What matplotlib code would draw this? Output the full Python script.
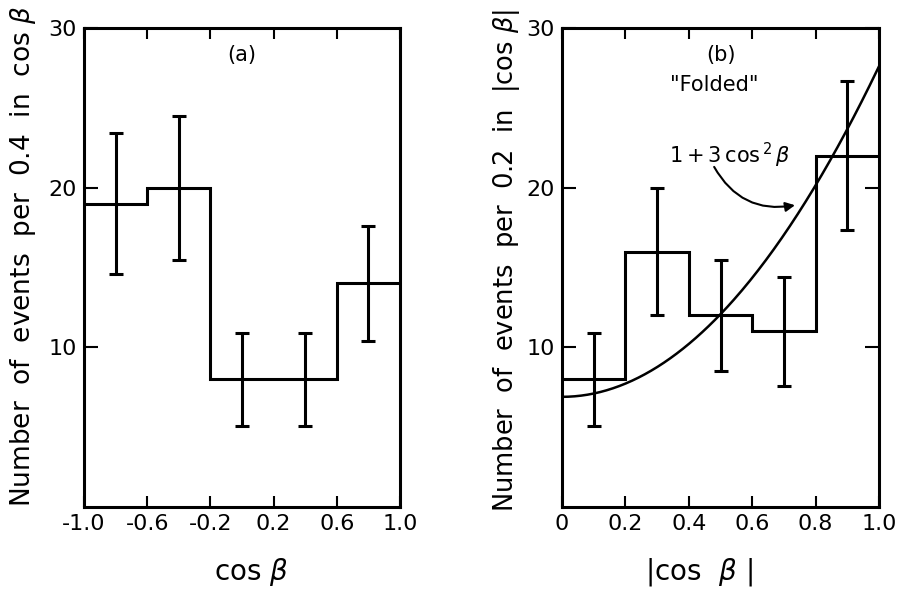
import numpy as np
import matplotlib
matplotlib.use("Agg")
import matplotlib.pyplot as plt

# --- panel (a): cos beta, bins of 0.4 ---
a_edges = [-1.0, -0.6, -0.2, 0.2, 0.6, 1.0]
a_counts = [19, 20, 8, 8, 14]
a_centers = [-0.8, -0.4, 0.0, 0.4, 0.8]
a_errors = [4.4, 4.5, 2.9, 2.9, 3.6]
a_xticks = [-1.0, -0.6, -0.2, 0.2, 0.6, 1.0]
a_xticklabels = ["-1.0", "-0.6", "-0.2", "0.2", "0.6", "1.0"]

# --- panel (b): |cos beta| folded, bins of 0.2 ---
b_edges = [0.0, 0.2, 0.4, 0.6, 0.8, 1.0]
b_counts = [8, 16, 12, 11, 22]
b_centers = [0.1, 0.3, 0.5, 0.7, 0.9]
b_errors = [2.9, 4.0, 3.5, 3.4, 4.65]
b_xticks = [0.0, 0.2, 0.4, 0.6, 0.8, 1.0]
b_xticklabels = ["0", "0.2", "0.4", "0.6", "0.8", "1.0"]

yticks = [10, 20, 30]
yticklabels = ["10", "20", "30"]
curve_norm = 6.9  # scale of 1 + 3 cos^2 beta

plt.rcParams['font.family'] = ['DejaVu Sans']
plt.rcParams['mathtext.fontset'] = 'dejavusans'

W, H = 899, 596
fig = plt.figure(figsize=(W / 100, H / 100), dpi=100)
ax_a = fig.add_axes([84 / W, 89 / H, 316 / W, 479 / H])
ax_b = fig.add_axes([562 / W, 89 / H, 317 / W, 479 / H])


def style_axis(ax, xticks, xlabels, right_ticks):
    ax.set_ylim(0, 30)
    ax.set_xticks(xticks)
    ax.set_xticklabels(xlabels, fontsize=16)
    ax.set_yticks(yticks)
    ax.set_yticklabels(yticklabels, fontsize=16)
    ax.tick_params(axis='x', direction='in', length=8, width=1.5, top=True, pad=5)
    ax.tick_params(axis='y', direction='in', length=10, width=1.5,
                   right=right_ticks, pad=5)
    for s in ax.spines.values():
        s.set_linewidth(2.2)


# panel (a)
ax_a.stairs(a_counts, a_edges, baseline=None, color='black', linewidth=2.2)
ax_a.errorbar(a_centers, a_counts, yerr=a_errors, fmt='none', ecolor='black',
              elinewidth=2.2, capsize=5, capthick=2.2)
ax_a.set_xlim(a_edges[0], a_edges[-1])
style_axis(ax_a, a_xticks, a_xticklabels, False)
ax_a.text(0.0, 28.3, "(a)", ha='center', va='center', fontsize=15)

# panel (b)
ax_b.stairs(b_counts, b_edges, baseline=None, color='black', linewidth=2.2)
ax_b.errorbar(b_centers, b_counts, yerr=b_errors, fmt='none', ecolor='black',
              elinewidth=2.2, capsize=5, capthick=2.2)
xc = np.linspace(0, 1, 200)
ax_b.plot(xc, curve_norm * (1 + 3 * xc ** 2), color='black', linewidth=1.8)
ax_b.set_xlim(b_edges[0], b_edges[-1])
style_axis(ax_b, b_xticks, b_xticklabels, True)
ax_b.text(0.5, 28.3, "(b)", ha='center', va='center', fontsize=15)
ax_b.text(0.48, 26.4, '"Folded"', ha='center', va='center', fontsize=15)
ax_b.text(0.53, 22.0, r"$1+3\,\mathrm{cos}^{\,2}\,\beta$",
          ha='center', va='center', fontsize=15)
ax_b.annotate("", xy=(0.735, 18.9), xytext=(0.48, 21.3),
              arrowprops=dict(arrowstyle='-|>', color='black', lw=1.5,
                              connectionstyle='arc3,rad=0.35',
                              shrinkA=0, shrinkB=0, mutation_scale=14))

# axis labels
fig.text(23 / W, 1 - 256 / H, r"Number  of  events  per  0.4  in  cos $\beta$",
         rotation=90, ha='center', va='center', fontsize=19)
fig.text(507 / W, 1 - 260 / H, r"Number  of  events  per  0.2  in  |cos $\beta$|",
         rotation=90, ha='center', va='center', fontsize=18.5)
fig.text(251 / W, 1 - 572 / H, r"cos $\beta$", ha='center', va='center', fontsize=20)
fig.text(699 / W, 1 - 572 / H, r"|cos  $\beta$ |", ha='center', va='center', fontsize=20)

fig.savefig("out.png", dpi=100)
